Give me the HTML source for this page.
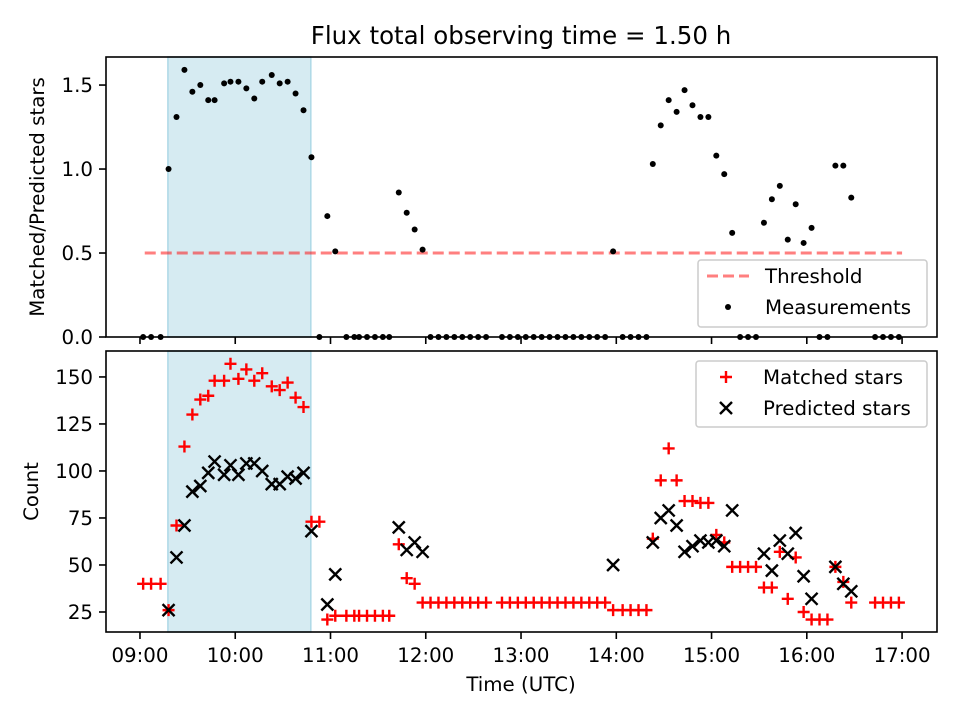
<!DOCTYPE html>
<html><head><meta charset="utf-8"><style>
body{margin:0;background:#fff;}
svg{display:block;font-family:"DejaVu Sans","Liberation Sans",sans-serif;}
</style></head><body>
<svg id="chart" width="960" height="720" viewBox="0 0 960 720" xmlns="http://www.w3.org/2000/svg">
<rect width="960" height="720" fill="#fff"/>
<text x="521" y="44" font-size="24.5" text-anchor="middle">Flux total observing time = 1.50 h</text>
<g id="topPanel"></g><g id="botPanel"></g>
</svg>
<script>
// minutes since 09:00
const ratioTimes=[2,7,13,18,23,28,33,38,43,47,53,57,62,67,72,77,83,88,93,98,103,108,113,118,123,130,135,138,143,148,153,157,163,168,173,178,183,188,193,198,203,208,213,218,228,233,238,243,248,253,258,263,268,273,278,283,288,293,298,304,309,314,319,323,328,333,338,343,348,353,358,363,368,373,378,383,388,393,398,403,408,413,418,423,428,433,438,443,448,463,468,473,478];
const ratioValues=[0,0,0,1.00,1.31,1.59,1.46,1.50,1.41,1.41,1.51,1.52,1.52,1.48,1.42,1.52,1.56,1.51,1.52,1.45,1.35,1.07,0,0.72,0.51,0,0,0,0,0,0,0,0.86,0.74,0.64,0.52,0,0,0,0,0,0,0,0,0,0,0,0,0,0,0,0,0,0,0,0,0,0,0.51,0,0,0,0,1.03,1.26,1.41,1.34,1.47,1.38,1.31,1.31,1.08,0.97,0.62,0,0,0,0.68,0.82,0.90,0.58,0.79,0.56,0.65,0,0,1.02,1.02,0.83,0,0,0,0];
const matchedTimes=ratioTimes;
const matchedValues=[40,40,40,26,71,113,130,138,140,148,148,157,149,154,148,152,145,143,147,139,134,73,73,21,23,23,23,23,23,23,23,23,61,43,40,30,30,30,30,30,30,30,30,30,30,30,30,30,30,30,30,30,30,30,30,30,30,30,26,26,26,26,26,64,95,112,95,84,84,83,83,66,62,49,49,49,49,38,38,57,32,54,25,21,21,21,49,41,30,30,30,30,30];
const predictedTimes=[18,23,28,33,38,43,47,53,57,62,67,72,77,83,88,93,98,103,108,118,123,163,168,173,178,298,323,328,333,338,343,348,353,358,363,368,373,393,398,403,408,413,418,423,438,443,448];
const predictedValues=[26,54,71,89,92,99,105,98,103,98,104,104,100,93,93,97,96,99,68,29,45,70,58,62,57,50,62,75,79,71,57,60,63,62,63,60,79,56,47,63,56,67,44,32,49,40,36];
const xTickLabels=["09:00","10:00","11:00","12:00","13:00","14:00","15:00","16:00","17:00"];
const topTicks=[0.0,0.5,1.0,1.5];
const botTicks=[25,50,75,100,125,150];
const shadeSpan=[17.6,107.6];
const threshold=0.5, thresholdSpan=[3,480];

const NS="http://www.w3.org/2000/svg";
const L=106,R=937,T1=57,B1=337,T2=351,B2=632;
const xmin=-21.4,xmax=502;
const FS=19.8;
const x=m=>L+(m-xmin)/(xmax-xmin)*(R-L);
const y1=v=>B1-(v-0)/(1.667-0)*(B1-T1);
const y2=v=>B2-(v-14.36)/(163.8-14.36)*(B2-T2);
function mk(p,tag,a){const e=document.createElementNS(NS,tag);for(const k in a)e.setAttribute(k,a[k]);p.appendChild(e);return e;}
const topG=document.getElementById('topPanel'),botG=document.getElementById('botPanel');

function panel(g,T,B,ys,ticks,fmt,ylabel,name){
  const sh=mk(g,'rect',{x:x(shadeSpan[0]),y:T,width:x(shadeSpan[1])-x(shadeSpan[0]),height:B-T,fill:'#add8e6','fill-opacity':0.5,stroke:'#add8e6','stroke-width':1.5});
  
  
  ticks.forEach(v=>{
    mk(g,'line',{x1:L-7,x2:L,y1:ys(v),y2:ys(v),stroke:'#000','stroke-width':1.6});
    const t=mk(g,'text',{x:L-13,y:ys(v)+7,'font-size':FS,'text-anchor':'end'});t.textContent=fmt(v);
    
    
  });
  xTickLabels.forEach((s,i)=>{mk(g,'line',{x1:x(i*60),x2:x(i*60),y1:B,y2:B+7,stroke:'#000','stroke-width':1.6});});
  const yl=mk(g,'text',{x:0,y:0,'font-size':FS,'text-anchor':'middle',transform:`translate(${name==='top'?44:38},${(T+B)/2}) rotate(-90)`});yl.textContent=ylabel;
  
  
}
panel(topG,T1,B1,y1,topTicks,v=>v.toFixed(1),'Matched/Predicted stars','top');
panel(botG,T2,B2,y2,botTicks,v=>String(v),'Count','bottom');

const th=mk(topG,'line',{x1:x(thresholdSpan[0]),x2:x(thresholdSpan[1]),y1:y1(threshold),y2:y1(threshold),stroke:'#ff0000','stroke-opacity':0.5,'stroke-width':3,'stroke-dasharray':'11 5'});


ratioTimes.forEach((m,i)=>{const c=mk(topG,'circle',{cx:x(m),cy:y1(ratioValues[i]),r:3,fill:'#000'});
  
  });
matchedTimes.forEach((m,i)=>{const cx=x(m),cy=y2(matchedValues[i]);
  const p=mk(botG,'path',{d:`M${cx-6},${cy}H${cx+6}M${cx},${cy-6}V${cy+6}`,stroke:'#ff0000','stroke-width':2.4});
  
  });
predictedTimes.forEach((m,i)=>{const cx=x(m),cy=y2(predictedValues[i]);
  const p=mk(botG,'path',{d:`M${cx-6},${cy-6}L${cx+6},${cy+6}M${cx-6},${cy+6}L${cx+6},${cy-6}`,stroke:'#000','stroke-width':2.4});
  
  });
xTickLabels.forEach((s,i)=>{const t=mk(botG,'text',{x:x(i*60),y:B2+30,'font-size':FS,'text-anchor':'middle'});t.textContent=s;
  
  });
const xl=mk(botG,'text',{x:521,y:691,'font-size':FS,'text-anchor':'middle'});xl.textContent='Time (UTC)';


[[T1,B1,topG],[T2,B2,botG]].forEach(([a,b,g])=>{const f=mk(g,'rect',{x:L,y:a,width:R-L,height:b-a,fill:'none',stroke:'#000','stroke-width':1.6});
  
  });
function legend(g,x0,y0,w,h,items,name){
  const lg=mk(g,'g',{});
  
  
  mk(lg,'rect',{x:x0,y:y0,width:w,height:h,rx:3,fill:'#fff','fill-opacity':0.8,stroke:'#ccc','stroke-width':1.5});
  items.forEach((it,i)=>{const cy=y0+16+i*31;it.draw(lg,x0+30,cy);
    const t=mk(lg,'text',{x:x0+67,y:cy+7,'font-size':FS});t.textContent=it.label;
    
    });
}
legend(topG,698,260,229,67,[
 {label:'Threshold',draw:(g,cx,cy)=>mk(g,'line',{x1:cx-21,x2:cx+21,y1:cy,y2:cy,stroke:'#ff0000','stroke-opacity':0.5,'stroke-width':3,'stroke-dasharray':'11 5'})},
 {label:'Measurements',draw:(g,cx,cy)=>mk(g,'circle',{cx:cx,cy:cy,r:3,fill:'#000'})}],'top-legend');
legend(botG,696,361,231,66,[
 {label:'Matched stars',draw:(g,cx,cy)=>mk(g,'path',{d:`M${cx-6},${cy}H${cx+6}M${cx},${cy-6}V${cy+6}`,stroke:'#ff0000','stroke-width':2.4})},
 {label:'Predicted stars',draw:(g,cx,cy)=>mk(g,'path',{d:`M${cx-6},${cy-6}L${cx+6},${cy+6}M${cx-6},${cy+6}L${cx+6},${cy-6}`,stroke:'#000','stroke-width':2.4})}],'bottom-legend');
</script>
</body></html>
